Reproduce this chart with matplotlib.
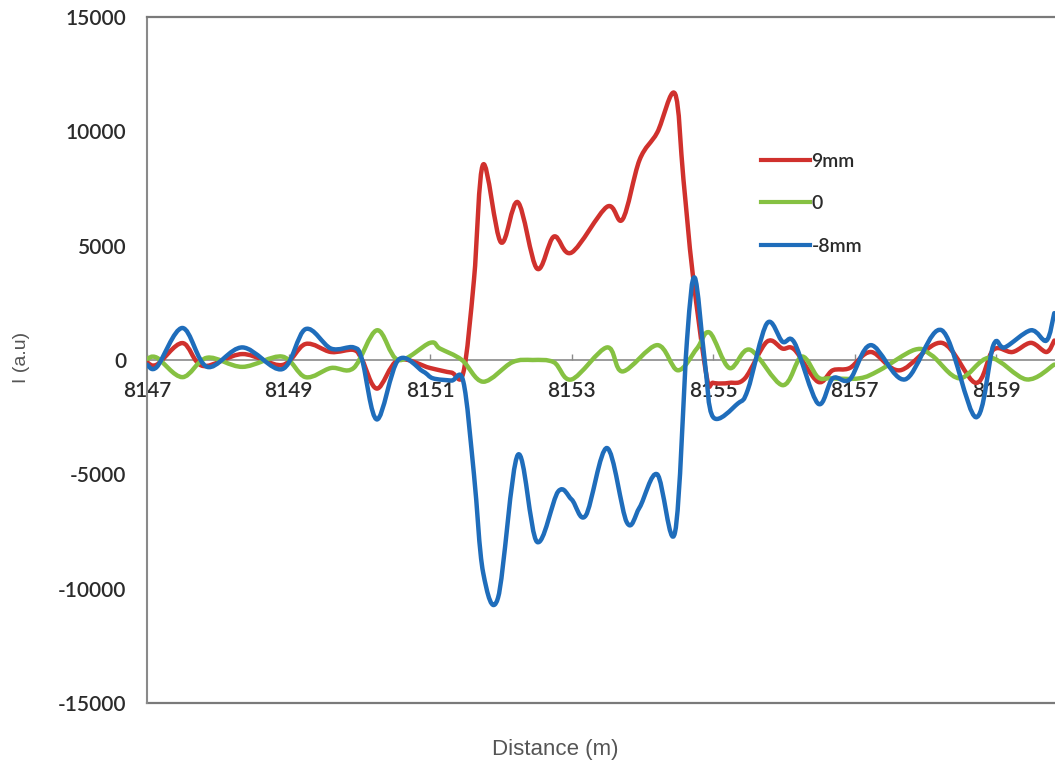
import numpy as np
import matplotlib
matplotlib.use("Agg")
import matplotlib.pyplot as plt
from matplotlib.path import Path
from matplotlib.patches import PathPatch
from matplotlib.lines import Line2D

# Профиль сигнала вдоль трассы (расстояние, м / интенсивность, у.е.)
x_9mm = [8147.00, 8147.14, 8147.50, 8147.79, 8148.35, 8148.91, 8149.24, 8149.60,
         8149.92, 8150.04, 8150.25, 8150.55, 8151.00, 8151.30, 8151.47, 8151.62,
         8151.75, 8152.00, 8152.24, 8152.51, 8152.75, 8153.00, 8153.50, 8153.72,
         8153.96, 8154.21, 8154.46, 8154.58, 8154.71, 8154.91, 8155.00, 8155.23,
         8155.45, 8155.76, 8155.98, 8156.15, 8156.48, 8156.69, 8156.93, 8157.23,
         8157.64, 8158.23, 8158.71, 8158.96, 8159.23, 8159.49, 8159.71, 8159.82]
y_9mm = [-100, -200, 740, -260, 260, -220, 700, 350,
         440, 0, -1250, 0, -350, -550, -550, 3500,
         8550, 5150, 6900, 4000, 5400, 4700, 6700, 6150,
         8750, 9950, 11650, 7900, 3800, -750, -1000, -1000,
         -800, 800, 500, 450, -950, -450, -350, 350,
         -450, 750, -1000, 450, 350, 750, 350, 850]

x_0 = [8147.00, 8147.14, 8147.50, 8147.85, 8148.35, 8148.91, 8149.24, 8149.60,
       8149.92, 8150.25, 8150.55, 8151.00, 8151.14, 8151.45, 8151.75, 8152.16,
       8152.45, 8152.75, 8153.00, 8153.50, 8153.72, 8154.21, 8154.50, 8154.77,
       8154.95, 8155.23, 8155.52, 8155.98, 8156.25, 8156.48, 8156.65, 8157.07,
       8157.35, 8157.85, 8158.09, 8158.48, 8158.91, 8159.43, 8159.82]
y_0 = [50, 100, -750, 100, -300, 150, -750, -350,
       -350, 1300, 0, 750, 500, 0, -950, -100,
       0, -100, -850, 550, -500, 650, -450, 500,
       1200, -350, 450, -1100, 150, -750, -800, -800,
       -450, 450, 200, -800, 100, -850, -200]

x_m8mm = [8147.00, 8147.14, 8147.50, 8147.85, 8148.35, 8148.91, 8149.24, 8149.60,
          8149.92, 8150.04, 8150.25, 8150.55, 8150.90, 8151.04, 8151.30, 8151.47,
          8151.62, 8151.75, 8151.96, 8152.24, 8152.51, 8152.81, 8153.00, 8153.20,
          8153.50, 8153.78, 8153.96, 8154.21, 8154.46, 8154.63, 8154.74, 8154.88,
          8155.00, 8155.35, 8155.49, 8155.76, 8155.98, 8156.15, 8156.48, 8156.69,
          8156.93, 8157.23, 8157.71, 8158.23, 8158.71, 8158.96, 8159.12, 8159.49,
          8159.71, 8159.82]
y_m8mm = [-200, -300, 1400, -300, 550, -400, 1350, 500,
          550, 0, -2600, 0, -500, -800, -900, -950,
          -5000, -9300, -10400, -4150, -7950, -5750, -6100, -6800,
          -3850, -7100, -6450, -5000, -7550, 850, 3600, 0,
          -2500, -1900, -1300, 1600, 800, 750, -1900, -800,
          -850, 650, -850, 1300, -2500, 650, 550, 1300,
          850, 2050]

labels = ["9mm", "0", "-8mm"]
colors = ["#d0312d", "#86c142", "#1f6dbb"]
x_ticks = [8147, 8149, 8151, 8153, 8155, 8157, 8159]
y_ticks = [-15000, -10000, -5000, 0, 5000, 10000, 15000]


def smooth_path(xs, ys):
    # сглаженная линия как в Excel: кривые Безье по схеме Катмулла-Рома
    p = np.column_stack([xs, ys]).astype(float)
    ext = np.vstack([p[0], p, p[-1]])
    verts = [p[0]]
    codes = [Path.MOVETO]
    for i in range(1, len(ext) - 2):
        c1 = ext[i] + (ext[i + 1] - ext[i - 1]) / 6
        c2 = ext[i + 1] - (ext[i + 2] - ext[i]) / 6
        verts += [c1, c2, ext[i + 1]]
        codes += [Path.CURVE4] * 3
    return Path(verts, codes)


fig = plt.figure(figsize=(10.55, 7.69), dpi=100)
ax = fig.add_axes([147 / 1055, 1 - 703 / 769, 920 / 1055, 686 / 769])
ax.set_xlim(8147, 8160)
ax.set_ylim(-15000, 15000)

axis_gray = "#8a8a8a"
frame_gray = "#7a7a7a"
text_col = "#2b2b2b"

for xs, ys, c in zip([x_9mm, x_0, x_m8mm], [y_9mm, y_0, y_m8mm], colors):
    ax.add_patch(PathPatch(smooth_path(xs, ys), facecolor="none", edgecolor=c,
                           lw=3.2, capstyle="round", joinstyle="round", zorder=3))

# ось X проходит через ноль, рамка сверху и снизу
ax.spines["bottom"].set_position(("data", 0))
ax.spines["bottom"].set_color(axis_gray)
ax.spines["bottom"].set_linewidth(1.2)
ax.spines["left"].set_color(axis_gray)
ax.spines["left"].set_linewidth(1.5)
ax.spines["top"].set_color(frame_gray)
ax.spines["top"].set_linewidth(1.6)
ax.spines["right"].set_visible(False)
ax.axhline(-15000, color=frame_gray, lw=1.6, clip_on=False, zorder=1)

ax.set_xticks(x_ticks)
ax.set_xticklabels([str(t) for t in x_ticks])
ax.set_yticks(y_ticks)
ax.set_yticklabels([str(t) for t in y_ticks])
ax.tick_params(axis="x", direction="in", length=4, width=1, color=axis_gray,
               pad=15, labelsize=15, labelcolor=text_col)
ax.tick_params(axis="y", length=0, pad=15, labelsize=15, labelcolor=text_col)
for lab in ax.get_xticklabels() + ax.get_yticklabels():
    lab.set_family("Lato")
    lab.set_weight("semibold")

fig.text(555 / 1055, 1 - 750 / 769, "Distance (m)", ha="center", va="center",
         fontsize=16, color="#555555", family="Liberation Sans")
fig.text(22 / 1055, 1 - 357 / 769, "I (a.u)", ha="center", va="center",
         rotation=90, fontsize=14, color="#555555", family="Liberation Sans")

handles = [Line2D([], [], color=c, lw=3) for c in colors]
leg = ax.legend(handles, labels, loc="upper left", frameon=False,
                bbox_to_anchor=(761 / 1055, 1 - 153 / 769),
                bbox_transform=fig.transFigure, borderpad=0, borderaxespad=0,
                handlelength=2.5, handletextpad=0.1, labelspacing=1.3,
                prop={"family": "Lato", "size": 14, "weight": "semibold"})
for t in leg.get_texts():
    t.set_color(text_col)

fig.savefig("out.png", dpi=100)
